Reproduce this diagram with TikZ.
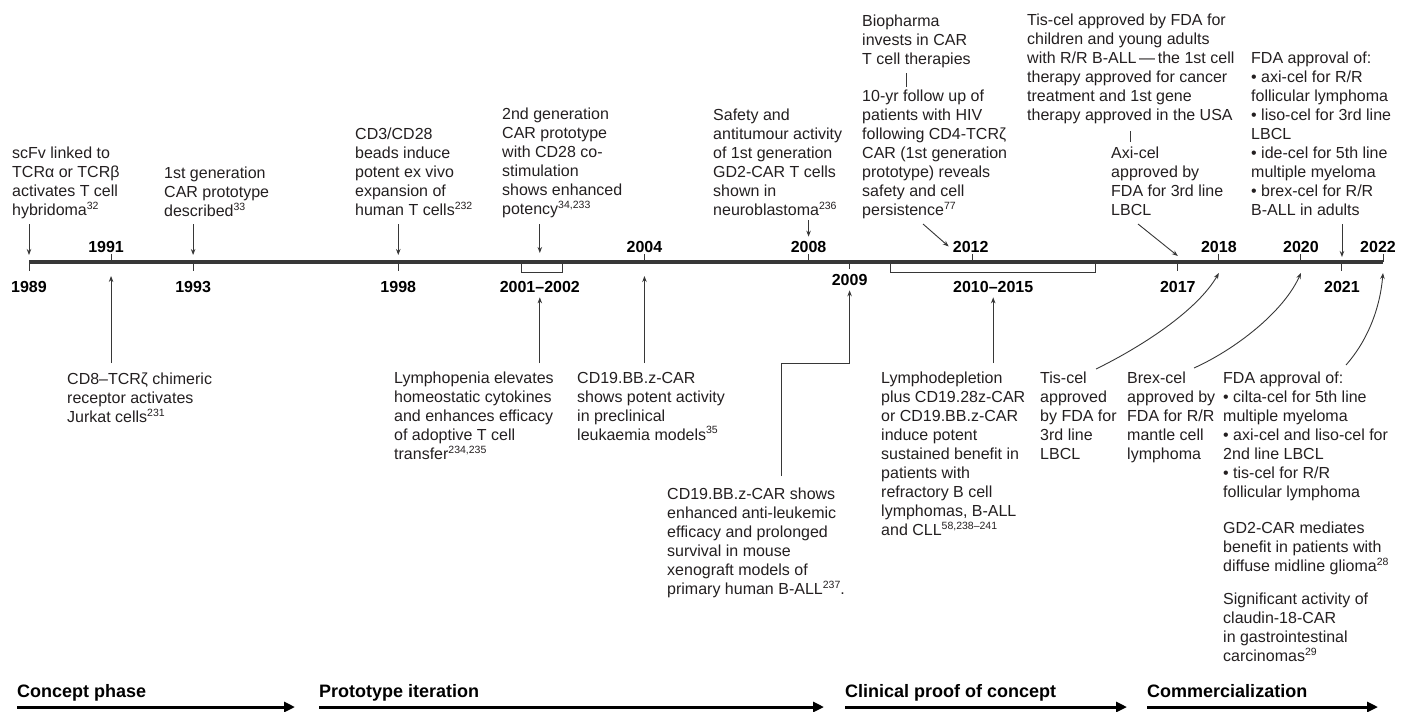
\documentclass[tikz,border=0pt]{standalone}
\usepackage{fontspec}
\setmainfont{Liberation Sans}
\usetikzlibrary{arrows.meta,calc}
\definecolor{cartext}{RGB}{35,31,32}
\definecolor{caraxis}{RGB}{55,55,55}
\newcommand{\evsize}{\fontsize{16}{19}\selectfont}
\newcommand{\rf}[1]{\raisebox{0.42em}{\fontsize{10.5}{10}\selectfont #1}}

\begin{document}
\begin{tikzpicture}[x=1pt, y=-1pt,
    event/.style={anchor=north west, inner sep=0pt, align=left,
                  font=\evsize, text=cartext},
    yrlab/.style={font=\bfseries\evsize, text=black, inner sep=1pt},
    phase/.style={anchor=base west, inner sep=0pt, text=black,
                  font=\bfseries\fontsize{18}{21}\selectfont},
    arr/.style={-{Stealth[length=6pt,width=4.5pt]}, line width=0.9pt, draw=caraxis},
    link/.style={line width=0.9pt, draw=caraxis},
    tick/.style={line width=1pt, draw=caraxis},
    phasearr/.style={-{Triangle[length=11pt,width=10pt]}, line width=3pt, draw=black},
  ]
  \useasboundingbox (0,0) rectangle (1408,712);

  % Timeline
  \foreach \yr in {1989,1991,1993,1998,2001,2002,2004,2008,2009,
                   2010,2012,2015,2017,2018,2020,2021,2022}
    \coordinate (y\yr) at ({29+41.03*(\yr-1989)},262);
  \coordinate (m0102) at ($(y2001)!0.45!(y2002)$);
  \coordinate (m1015) at ($(y2010)!0.5!(y2015)$);
  \draw[line width=4.5pt, caraxis] (y1989) -- (y2022);

  % Years above
  \foreach \yr/\dx in {1991/-5,2004/0,2008/0,2012/-2,2018/0,2020/0,2022/-5} {
    \draw[tick] (y\yr) -- ++(0,-8);
    \node[yrlab, anchor=base] (l\yr) at ([xshift=\dx pt, yshift=10pt]y\yr) {\yr};
  }
  % Years below
  \foreach \yr in {1989,1993,1998,2017,2021} {
    \draw[tick] (y\yr) -- ++(0,9);
    \node[yrlab, anchor=base] (l\yr) at ([yshift=-30pt]y\yr) {\yr};
  }
  \draw[tick] (y2009) -- ++(0,7);
  \node[yrlab, anchor=base] (l2009) at ([yshift=-23pt]y2009) {2009};

  % Brackets
  \draw[tick] (y2001) -- ++(0,10) -| (y2002);
  \node[yrlab, anchor=base] (l0102) at ([yshift=-30pt]m0102) {2001–2002};
  \draw[tick] (y2010) -- ++(0,10) -| (y2015);
  \node[yrlab, anchor=base] (l1015) at ([yshift=-30pt]m1015) {2010–2015};

  \coordinate (top) at (0,224);
  \coordinate (bot) at (0,363);

  % Events above the line
  \node[event] (scfv) at (12,147)
    {scFv linked to\\ TCRα or TCRβ\\ activates T cell\\ hybridoma\rf{32}};
  \node[event] (gen1) at (164,167)
    {1st generation\\ CAR prototype\\ described\rf{33}};
  \node[event] (beads) at (355,128)
    {CD3/CD28\\ beads induce\\ potent ex vivo\\ expansion of\\ human T cells\rf{232}};
  \node[event] (gen2) at (502,108)
    {2nd generation\\ CAR prototype\\ with CD28 co-\\ stimulation\\ shows enhanced\\ potency\rf{34,233}};
  \node[event] (gd2) at (713,109)
    {Safety and\\ antitumour activity\\ of 1st generation\\ GD2-CAR T cells\\ shown in\\ neuroblastoma\rf{236}};
  \node[event] (bio) at (862,15)
    {Biopharma\\ invests in CAR\\ T cell therapies};
  \node[event] (hiv) at (862,90)
    {10-yr follow up of\\ patients with HIV\\ following CD4-TCRζ\\ CAR (1st generation\\ prototype) reveals\\ safety and cell\\ persistence\rf{77}};
  \node[event] (tisfda) at (1027,14)
    {Tis-cel approved by FDA for\\ children and young adults\\ with R/R B-ALL\,—\,the 1st cell\\ therapy approved for cancer\\ treatment and 1st gene\\ therapy approved in the USA};
  \node[event] (axi) at (1111,147)
    {Axi-cel\\ approved by\\ FDA for 3rd line\\ LBCL};
  \node[event] (fda21) at (1251,52)
    {FDA approval of:\\ • axi-cel for R/R\\ follicular lymphoma\\ • liso-cel for 3rd line\\ LBCL\\ • ide-cel for 5th line\\ multiple myeloma\\ • brex-cel for R/R\\ B-ALL in adults};

  \draw[arr] (y1989 |- top) -- ([yshift=7pt]y1989);
  \draw[arr] (y1993 |- top) -- ([yshift=7pt]y1993);
  \draw[arr] (y1998 |- top) -- ([yshift=7pt]y1998);
  \draw[arr] (m0102 |- top) -- ([yshift=9pt]m0102);
  \draw[arr] ([yshift=-4pt]gd2.south -| y2008) -- ([yshift=3pt]l2008.north);
  \draw[link] ([yshift=-5pt]bio.south -| 906,0) -- ([yshift=3pt]hiv.north -| 906,0);
  \coordinate (a12) at (923,224);
  \draw[arr] (a12) -- ([xshift=-3pt]l2012.west);
  \draw[link] ([yshift=-7pt]tisfda.south -| 1130,0) -- ([yshift=5pt]axi.north -| 1130,0);
  \coordinate (a17) at (1138,224);
  \draw[arr] (a17) -- ([yshift=6pt]y2017);
  \draw[arr] (y2021 |- top) -- ([yshift=5pt]y2021);

  % Events below the line
  \node[event] (cd8) at (67,373)
    {CD8–TCRζ chimeric\\ receptor activates\\ Jurkat cells\rf{231}};
  \node[event] (lympen) at (394,372)
    {Lymphopenia elevates\\ homeostatic cytokines\\ and enhances efficacy\\ of adoptive T cell\\ transfer\rf{234,235}};
  \node[event] (bbz) at (577,372)
    {CD19.BB.z-CAR\\ shows potent activity\\ in preclinical\\ leukaemia models\rf{35}};
  \node[event] (xeno) at (667,488)
    {CD19.BB.z-CAR shows\\ enhanced anti-leukemic\\ efficacy and prolonged\\ survival in mouse\\ xenograft models of\\ primary human B-ALL\rf{237}.};
  \node[event] (lymdep) at (881,372)
    {Lymphodepletion\\ plus CD19.28z-CAR\\ or CD19.BB.z-CAR\\ induce potent\\ sustained benefit in\\ patients with\\ refractory B cell\\ lymphomas, B-ALL\\ and CLL\rf{58,238–241}};
  \node[event] (tis18) at (1040,372)
    {Tis-cel\\ approved\\ by FDA for\\ 3rd line\\ LBCL};
  \node[event] (brex) at (1127,372)
    {Brex-cel\\ approved by\\ FDA for R/R\\ mantle cell\\ lymphoma};
  \node[event] (fda22) at (1223,372)
    {FDA approval of:\\ • cilta-cel for 5th line\\ multiple myeloma\\ • axi-cel and liso-cel for\\ 2nd line LBCL\\ • tis-cel for R/R\\ follicular lymphoma};
  \node[event] (glioma) at (1223,522)
    {GD2-CAR mediates\\ benefit in patients with\\ diffuse midline glioma\rf{28}};
  \node[event] (claud) at (1223,593)
    {Significant activity of\\ claudin-18-CAR\\ in gastrointestinal\\ carcinomas\rf{29}};

  \draw[arr] (y1991 |- bot) -- ([yshift=-14pt]y1991);
  \draw[arr] (m0102 |- bot) -- ([yshift=-4pt]l0102.south);
  \draw[arr] (y2004 |- bot) -- ([yshift=-14pt]y2004);
  \coordinate (k09) at (781,363);
  \draw[arr] ([yshift=12pt]xeno.north -| k09) -- (k09) -- (k09 -| y2009)
    -- ([yshift=-4pt]l2009.south);
  \draw[arr] (m1015 |- bot) -- ([yshift=-4pt]l1015.south);
  \coordinate (c18) at (1096,369);
  \coordinate (c20) at (1194,368);
  \coordinate (c22) at (1346,365);
  \draw[arr] (c18) .. controls +(45,-22) and +(-22,38) .. ([yshift=-11pt]y2018);
  \draw[arr] (c20) .. controls +(40,-18) and +(-18,40) .. ([yshift=-11pt]y2020);
  \draw[arr] (c22) .. controls +(22,-25) and +(-3,35) .. ([yshift=-11pt]y2022);

  % Phases
  \node[phase] (ph1) at (17,697) {Concept phase};
  \node[phase] (ph2) at (319,697) {Prototype iteration};
  \node[phase] (ph3) at (845,697) {Clinical proof of concept};
  \node[phase] (ph4) at (1147,697) {Commercialization};
  \coordinate (pe1) at (295,707);
  \coordinate (pe2) at (824,707);
  \coordinate (pe3) at (1127,707);
  \coordinate (pe4) at (1378,707);
  \foreach \i in {1,...,4}
    \draw[phasearr] (ph\i.base west |- pe\i) -- (pe\i);
\end{tikzpicture}
\end{document}
